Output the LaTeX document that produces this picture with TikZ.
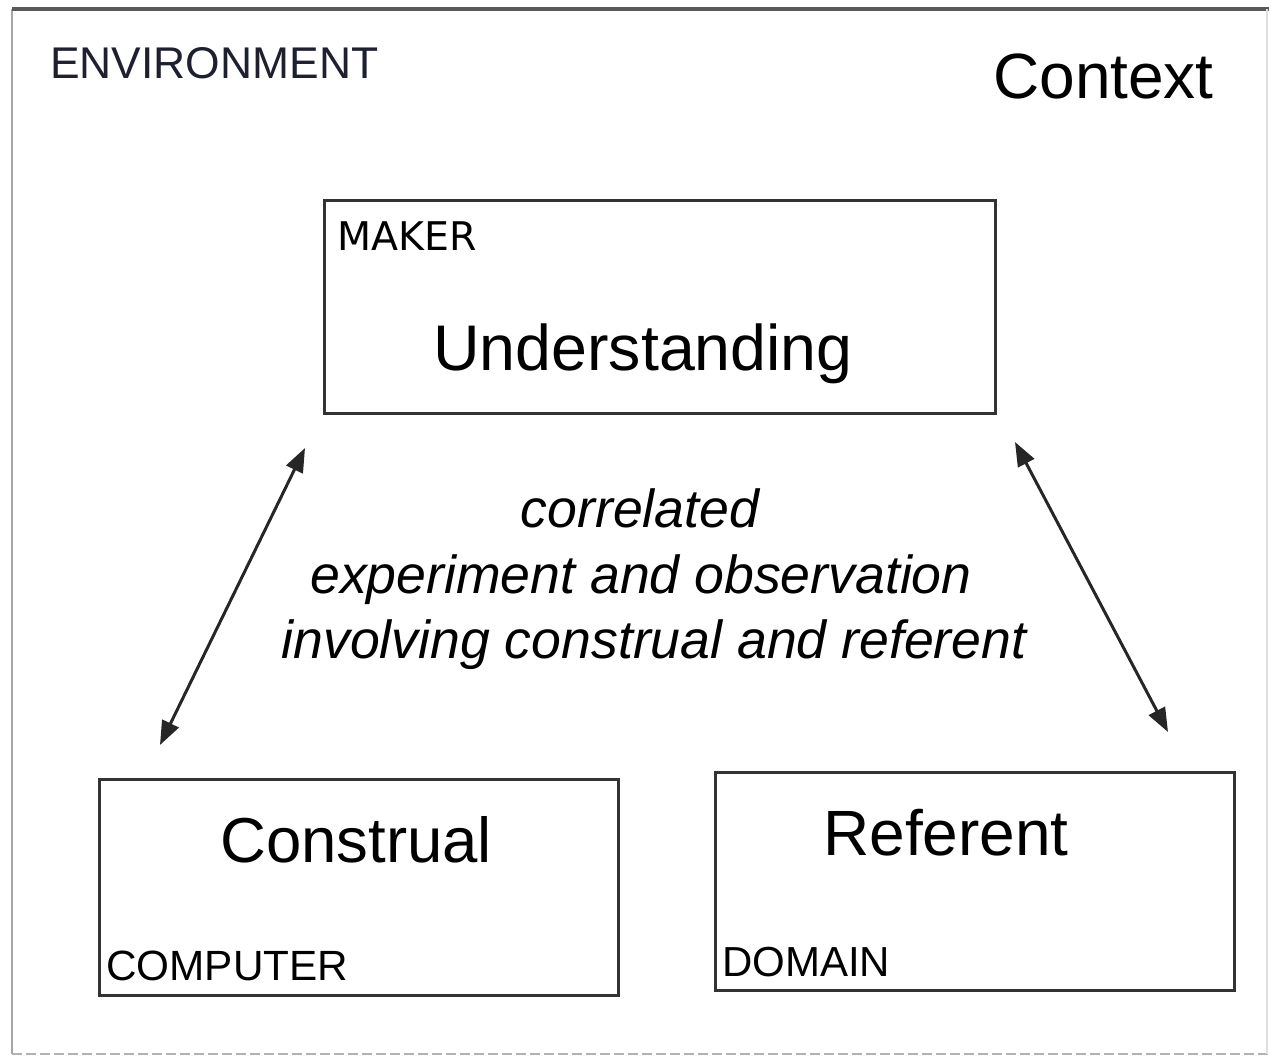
\documentclass[tikz,border=0pt]{standalone}
\usepackage{fontspec}
\setmainfont{Liberation Sans}
\newfontfamily\dejafont{DejaVu Sans}
\usetikzlibrary{arrows.meta}
\definecolor{boxline}{HTML}{333333}
\definecolor{navytext}{HTML}{1E2030}
\tikzset{
  boxnode/.style={draw=boxline, line width=3pt, rectangle, inner sep=0pt},
  bigtxt/.style={font=\fontsize{64}{70}\selectfont, inner sep=0pt, anchor=base west},
  smalltxt/.style={font=\fontsize{43}{48}\selectfont, inner sep=0pt, anchor=base west},
  midtxt/.style={font=\itshape\fontsize{53.6}{65}\selectfont, inner sep=0pt, anchor=base},
  linktwo/.style={line width=3pt, draw=black!85,
    {Triangle[length=24pt,width=18pt]}-{Triangle[length=24pt,width=18pt]}}
}
\begin{document}
\begin{tikzpicture}[x=1pt,y=-1pt]
\useasboundingbox (0,0) rectangle (1269,1058);
% outer frame
\draw[gray!70, line width=2pt] (12,9) -- (12,1054);
\draw[black!65, line width=3.5pt] (12,9) -- (1269,9);
\draw[gray!60, line width=2pt, dash pattern=on 10pt off 4pt] (12,1054) -- (1269,1054);
\draw[gray!25, line width=1.5pt] (1267,9) -- (1267,1054);
% labels
\node[font=\fontsize{44.4}{50}\selectfont, text=navytext, inner sep=0pt, anchor=base west] (env) at (50,78) {ENVIRONMENT};
\node[bigtxt] (ctx) at (993,98) {Context};
% boxes
\node[boxnode, minimum width=671pt, minimum height=213pt] (maker) at (659.5,306.5) {};
\node[boxnode, minimum width=519pt, minimum height=216pt] (construal) at (358.5,887) {};
\node[boxnode, minimum width=519pt, minimum height=218pt] (referent) at (974.5,881) {};
% box texts
\node[font=\dejafont\fontsize{39.5}{44}\selectfont, inner sep=0pt, anchor=base west] (makerlbl) at (337,250) {MAKER};
\node[bigtxt, font=\fontsize{64.5}{70}\selectfont] (undlbl) at (433,370) {Understanding};
\node[bigtxt, font=\fontsize{63.5}{70}\selectfont] (conlbl) at (220,862) {Construal};
\node[smalltxt, font=\fontsize{42.3}{48}\selectfont] (complbl) at (106,980) {COMPUTER};
\node[bigtxt, font=\fontsize{64}{70}\selectfont] (reflbl) at (823,855) {Referent};
\node[smalltxt, font=\fontsize{42}{48}\selectfont] (domlbl) at (722,976) {DOMAIN};
% middle text
\node[midtxt] (mid1) at (640,527) {correlated};
\node[midtxt] (mid2) at (641,593) {experiment and observation};
\node[midtxt] (mid3) at (654,658) {involving construal and referent};
% arrows
\coordinate (la) at (305,448);
\coordinate (lb) at (160,745);
\coordinate (ra) at (1015,442);
\coordinate (rb) at (1168,732);
\draw[linktwo] (la) -- (lb);
\draw[linktwo] (ra) -- (rb);
\end{tikzpicture}
\end{document}
